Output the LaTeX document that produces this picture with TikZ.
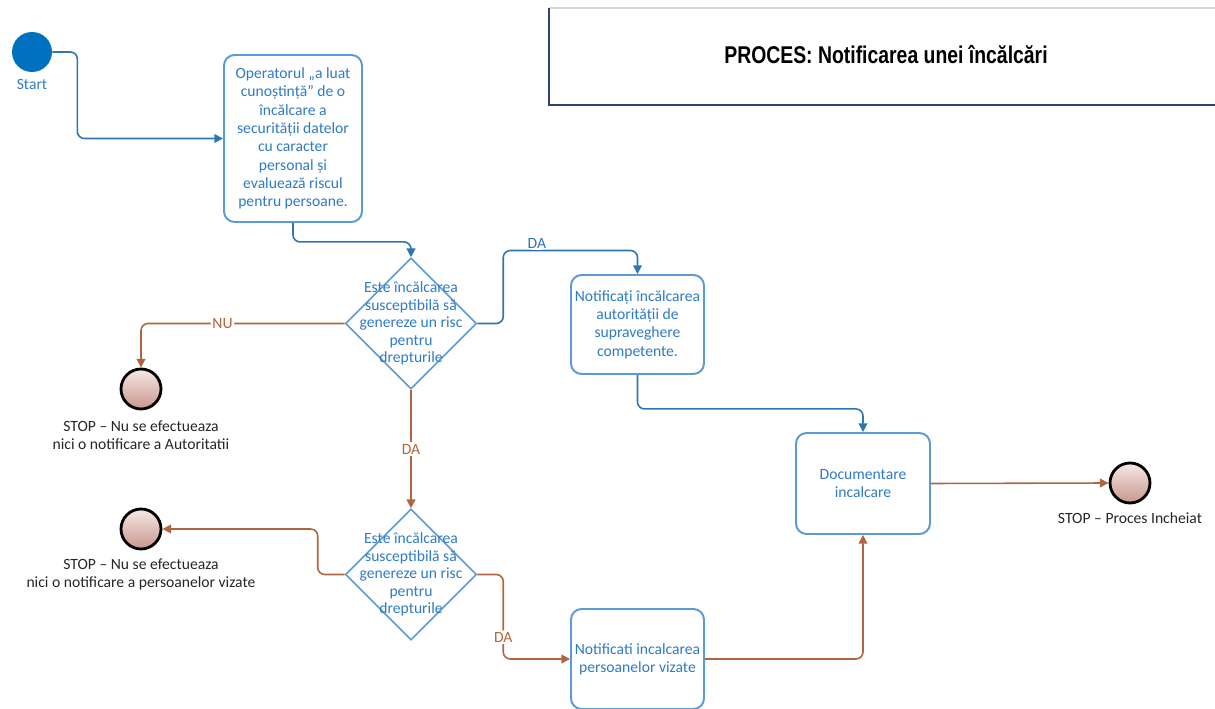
\documentclass[tikz,border=0pt]{standalone}
\usepackage{fontspec}
\setmainfont{Carlito}
\newfontfamily\titlefont[FakeStretch=0.8]{Liberation Sans}
\usetikzlibrary{arrows.meta,positioning,shapes.geometric}

\definecolor{flowblue}{HTML}{2E75B6}
\definecolor{boxline}{HTML}{5B9BD5}
\definecolor{boxtext}{HTML}{2F7BC4}
\definecolor{flowbrown}{HTML}{B0653F}
\definecolor{startblue}{HTML}{0070C0}
\definecolor{framenavy}{HTML}{2F4473}
\definecolor{stoptop}{HTML}{F6E8E5}
\definecolor{stopbottom}{HTML}{C9968C}

\begin{document}
\begin{tikzpicture}[
  x=0.02cm,
  y=-0.02cm,
  task/.style={
    draw=boxline,
    line width=1.1pt,
    rounded corners=6pt,
    fill=white,
    text=boxtext,
    align=center,
    inner sep=0pt,
    font=\fontsize{8.9}{10.4}\selectfont
  },
  gate/.style={
    diamond,
    draw=boxline,
    line width=0.9pt,
    minimum width=2.62cm,
    minimum height=2.62cm,
    inner sep=0pt
  },
  gatetext/.style={text=boxtext,align=center,font=\fontsize{8.9}{10}\selectfont},
  stopev/.style={
    circle,
    draw=black,
    line width=1.6pt,
    top color=stoptop,
    bottom color=stopbottom,
    minimum size=8mm,
    inner sep=0pt
  },
  evlabel/.style={align=center,text=black!85,font=\fontsize{8.9}{10.4}\selectfont},
  blueflow/.style={draw=flowblue,line width=0.9pt,rounded corners=4pt,
    -{Triangle[length=5pt,width=5pt]}},
  brownflow/.style={draw=flowbrown,line width=0.9pt,rounded corners=4pt,
    -{Triangle[length=5pt,width=5pt]}},
  cond/.style={fill=white,inner sep=1pt,font=\fontsize{8.9}{10}\selectfont}
]
  \useasboundingbox (0,0) rectangle (1215,709);

  % title frame
  \draw[black!15,line width=0.8pt] (549,8) -- (1215,8);
  \draw[framenavy,line width=1.3pt] (549,8) -- (549,105) -- (1215,105);
  \node[font=\titlefont\bfseries\fontsize{13.8}{15}\selectfont] (title) at (886,55)
    {PROCES: Notificarea unei încălcări};

  % events
  \node[circle,fill=startblue,minimum size=8mm,inner sep=0pt] (start) at (32,52) {};
  \node[below=0.2mm of start,text=boxtext,font=\fontsize{8.9}{10}\selectfont] (startlbl) {Start};

  \node[stopev] (stopaut) at (141,389) {};
  \node[evlabel,below=0.8mm of stopaut] (stopautlbl)
    {STOP – Nu se efectueaza\\nici o notificare a Autoritatii};
  \node[stopev] (stoppers) at (141,529) {};
  \node[evlabel,below=0.4mm of stoppers] (stopperslbl)
    {STOP – Nu se efectueaza\\nici o notificare a persoanelor vizate};
  \node[stopev] (stopend) at (1130,483) {};
  \node[evlabel,below=0.4mm of stopend] (stopendlbl) {STOP – Proces Incheiat};

  % tasks
  \node[task,minimum width=2.76cm,minimum height=3.34cm] (aware) at (293,138.5)
    {Operatorul „a luat\\cunoștință” de o\\încălcare a\\securității datelor\\cu caracter\\personal și\\evaluează riscul\\pentru persoane.};
  \node[task,minimum width=2.66cm,minimum height=1.98cm] (notifaut) at (637.5,324.5)
    {Notificați încălcarea\\autorității de\\supraveghere\\competente.};
  \node[task,minimum width=2.66cm,minimum height=2.0cm] (notifpers) at (637.5,659)
    {Notificati incalcarea\\persoanelor vizate};
  \node[task,minimum width=2.68cm,minimum height=2.02cm] (docum) at (863,483.5)
    {Documentare\\incalcare};

  % gateways
  \node[gate] (riskaut) at (411,323.5) {};
  \node[gatetext] at (riskaut) {Este încălcarea\\susceptibilă să\\genereze un risc\\pentru\\drepturile};
  \node[gate] (riskpers) at (411,574.5) {};
  \node[gatetext] at (riskpers) {Este încălcarea\\susceptibilă să\\genereze un risc\\pentru\\drepturile};

  % flows
  \draw[blueflow] (start.east) -- ++(25,0) |- (aware.west);
  \draw[blueflow] (aware.south) -- ++(0,19) -| (riskaut.north);
  \draw[blueflow] (riskaut.east) -- ++(26,0) -- ++(0,-73)
    -| node[cond,pos=0.125,text=flowblue,yshift=1.5mm] {DA} (notifaut.north);
  \draw[brownflow] (riskaut.west) -| node[cond,pos=0.3,text=flowbrown] {NU} (stopaut.north);
  \draw[brownflow] (riskaut.south) -- node[cond,text=flowbrown] {DA} (riskpers.north);
  \draw[brownflow] (riskpers.west) -- ++(-27,0) |- (stoppers.east);
  \draw[brownflow] (riskpers.east) -- ++(26,0)
    |- node[cond,pos=0.37,text=flowbrown] {DA} (notifpers.west);
  \draw[blueflow] (notifaut.south) -- ++(0,34) -| (docum.north);
  \draw[brownflow] (notifpers.east) -| (docum.south);
  \draw[brownflow] (docum.east) -- (stopend.west);
\end{tikzpicture}
\end{document}
